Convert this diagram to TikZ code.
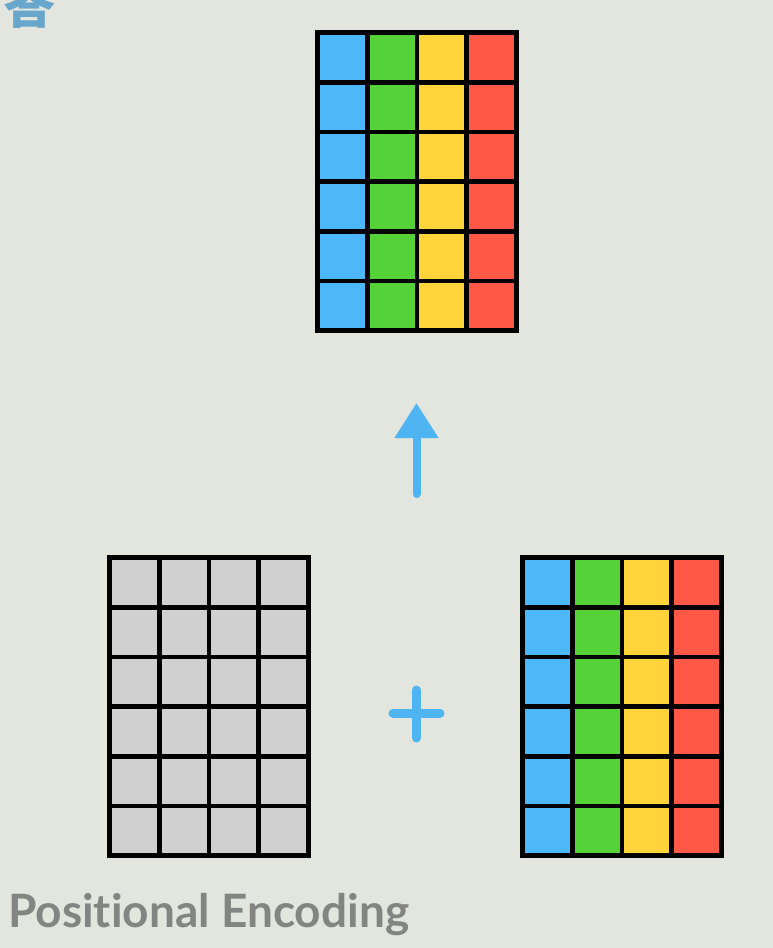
\documentclass[tikz,border=0pt]{standalone}
\usepackage{fontspec}
\newfontfamily\captionfont[Ligatures={NoCommon}]{Lato}
\newfontfamily\cjkfont{Noto Sans CJK SC}
\usetikzlibrary{arrows.meta,positioning}

\definecolor{bgcol}{RGB}{226,230,223}
\definecolor{cblue}{RGB}{76,184,250}
\definecolor{cgreen}{RGB}{85,210,55}
\definecolor{cyellow}{RGB}{255,212,58}
\definecolor{cred}{RGB}{255,88,70}
\definecolor{cgray}{RGB}{208,208,208}
\definecolor{signblue}{RGB}{78,180,242}
\definecolor{titleblue}{RGB}{104,166,204}
\definecolor{textgray}{RGB}{132,133,130}

\tikzset{
  arrowline/.style={draw=signblue, line width=8pt, line cap=round,
    -{Triangle[length=35pt,width=42pt]}},
  plusline/.style={draw=signblue, line width=9pt, line cap=round},
}

\begin{document}
\begin{tikzpicture}[x=1pt,y=-1pt]

% Background
\fill[bgcol] (0,0) rectangle (773,948);
\useasboundingbox (0,0) rectangle (773,948);
\clip (0,0) rectangle (773,948);

% Cut-off character at the top
\node[anchor=south west, inner sep=0, text=titleblue] (topchar) at (3,29)
  {\fontsize{52}{52}\cjkfont\bfseries 答};

% Draw the three grids (outer frame, then cells)
\foreach \gx/\gy/\ca/\cb/\cc/\cd in {
  315/30/cblue/cgreen/cyellow/cred,
  107/555/cgray/cgray/cgray/cgray,
  520/555/cblue/cgreen/cyellow/cred}{
  \fill[black] (\gx,\gy) rectangle ++(204,303);
  \foreach \c/\col in {0/\ca,1/\cb,2/\cc,3/\cd}
    \foreach \r in {0,...,5}
      \fill[\col] ({\gx+4.8+\c*49.8},{\gy+4.8+\r*49.7}) rectangle ++(45,45);
}

% Arrow from the sum up to the result
\coordinate (arrowtail) at (416.5,494);
\coordinate (arrowtip) at (416.5,403);
\draw[arrowline] (arrowtail) -- (arrowtip);

% Plus sign between the two bottom grids
\draw[plusline] (393,713) -- (440,713);
\draw[plusline] (416.5,690) -- (416.5,738);

% Caption
\node[anchor=base west, inner sep=0, text=textgray] (caption) at (8,927)
  {\fontsize{46}{46}\captionfont\bfseries Positional Encoding};

\end{tikzpicture}
\end{document}
